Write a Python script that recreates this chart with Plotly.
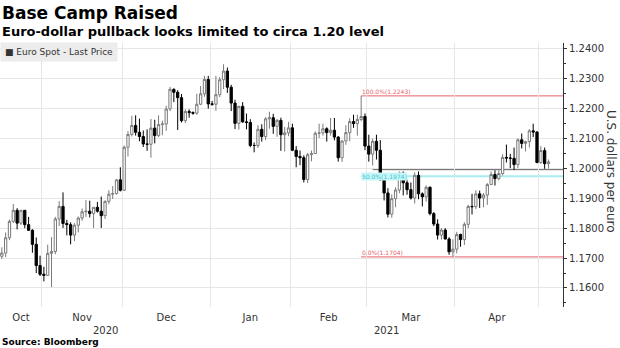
import pandas as pd
import plotly.graph_objects as go

# ---------------- data ----------------
dates = pd.bdate_range("2020-10-15", "2021-05-05")

opens = [
    1.1746, 1.1706, 1.1717, 1.1768, 1.1823, 1.1860, 1.1817, 1.1860, 1.1812, 1.1793, 1.1746, 1.1675,
    1.1646, 1.1642, 1.1716, 1.1722, 1.1831, 1.1873, 1.1816, 1.1812, 1.1777, 1.1810, 1.1834, 1.1855,
    1.1857, 1.1849, 1.1870, 1.1857, 1.1842, 1.1890, 1.1914, 1.1916, 1.1962,
    1.1927, 1.2071, 1.2114, 1.2144, 1.2121, 1.2107, 1.2082, 1.2081, 1.2135, 1.2110, 1.2147, 1.2149,
    1.2199, 1.2265, 1.2255, 1.2237, 1.2160, 1.2191, 1.2187, 1.2185, 1.2215, 1.2250, 1.2298,
    1.2216, 1.2215, 1.2247, 1.2297, 1.2326, 1.2272, 1.2219, 1.2151, 1.2208, 1.2156, 1.2154, 1.2077,
    1.2077, 1.2131, 1.2107, 1.2166, 1.2170, 1.2141, 1.2161, 1.2113, 1.2119,
    1.2136, 1.2061, 1.2040, 1.2036, 1.1963, 1.2046, 1.2050, 1.2118, 1.2119, 1.2133, 1.2120, 1.2128,
    1.2105, 1.2036, 1.2092, 1.2120, 1.2157, 1.2150, 1.2164, 1.2174,
    1.2075, 1.2048, 1.2091, 1.2061, 1.1966, 1.1918, 1.1847, 1.1899, 1.1928, 1.1985, 1.1952, 1.1929,
    1.1901, 1.1977, 1.1915, 1.1905, 1.1937, 1.1849, 1.1814, 1.1777, 1.1794, 1.1764, 1.1721,
    1.1730, 1.1779, 1.1762, 1.1813, 1.1873, 1.1872, 1.1915, 1.1901, 1.1911, 1.1946, 1.1980, 1.1966,
    1.1983, 1.2037, 1.2035, 1.2034, 1.2013, 1.2096, 1.2084, 1.2090, 1.2126, 1.2122,
    1.2020, 1.2060, 1.2016,
]
highs = [
    1.1750, 1.1736, 1.1786, 1.1829, 1.1881, 1.1867, 1.1861, 1.1860, 1.1838, 1.1797, 1.1769, 1.1708,
    1.1671, 1.1745, 1.1770, 1.1838, 1.1891, 1.1920, 1.1828, 1.1820, 1.1817, 1.1839, 1.1866, 1.1894,
    1.1892, 1.1870, 1.1888, 1.1906, 1.1893, 1.1927, 1.1941, 1.1964, 1.2004,
    1.2077, 1.2125, 1.2176, 1.2178, 1.2167, 1.2127, 1.2131, 1.2166, 1.2163, 1.2178, 1.2160, 1.2210,
    1.2273, 1.2268, 1.2262, 1.2249, 1.2198, 1.2198, 1.2191, 1.2250, 1.2276, 1.2310, 1.2310,
    1.2226, 1.2310, 1.2306, 1.2349, 1.2338, 1.2280, 1.2230, 1.2210, 1.2222, 1.2184, 1.2165, 1.2087,
    1.2145, 1.2148, 1.2172, 1.2190, 1.2183, 1.2166, 1.2170, 1.2139, 1.2156,
    1.2150, 1.2075, 1.2060, 1.2044, 1.2052, 1.2060, 1.2124, 1.2150, 1.2150, 1.2138, 1.2169, 1.2169,
    1.2108, 1.2094, 1.2145, 1.2168, 1.2180, 1.2180, 1.2243, 1.2184,
    1.2113, 1.2100, 1.2113, 1.2095, 1.1977, 1.1934, 1.1913, 1.1937, 1.1990, 1.1990, 1.1962, 1.1953,
    1.1987, 1.1990, 1.1920, 1.1943, 1.1940, 1.1854, 1.1830, 1.1800, 1.1800, 1.1770, 1.1763,
    1.1788, 1.1782, 1.1820, 1.1878, 1.1915, 1.1927, 1.1926, 1.1918, 1.1951, 1.1990, 1.1994, 1.1994,
    1.2048, 1.2080, 1.2049, 1.2070, 1.2100, 1.2117, 1.2093, 1.2132, 1.2150, 1.2125,
    1.2075, 1.2070, 1.2030,
]
lows = [
    1.1689, 1.1697, 1.1703, 1.1760, 1.1817, 1.1796, 1.1811, 1.1800, 1.1791, 1.1718, 1.1650, 1.1640,
    1.1622, 1.1640, 1.1603, 1.1713, 1.1807, 1.1801, 1.1776, 1.1746, 1.1757, 1.1786, 1.1825, 1.1838,
    1.1836, 1.1801, 1.1852, 1.1801, 1.1831, 1.1880, 1.1898, 1.1912, 1.1923,
    1.1925, 1.2040, 1.2107, 1.2110, 1.2091, 1.2072, 1.2059, 1.2036, 1.2084, 1.2105, 1.2111, 1.2126,
    1.2192, 1.2222, 1.2129, 1.2154, 1.2152, 1.2170, 1.2180, 1.2180, 1.2212, 1.2240, 1.2200,
    1.2210, 1.2193, 1.2239, 1.2266, 1.2253, 1.2192, 1.2132, 1.2130, 1.2153, 1.2131, 1.2071, 1.2054,
    1.2069, 1.2090, 1.2095, 1.2133, 1.2116, 1.2106, 1.2059, 1.2057, 1.2108,
    1.2058, 1.2004, 1.2011, 1.1953, 1.1951, 1.2024, 1.2049, 1.2102, 1.2110, 1.2090, 1.2110, 1.2094,
    1.2023, 1.2022, 1.2079, 1.2091, 1.2136, 1.2110, 1.2158, 1.2061,
    1.2023, 1.2010, 1.2030, 1.1958, 1.1893, 1.1836, 1.1835, 1.1870, 1.1917, 1.1910, 1.1912, 1.1896,
    1.1883, 1.1897, 1.1873, 1.1889, 1.1843, 1.1807, 1.1762, 1.1762, 1.1762, 1.1711, 1.1704,
    1.1716, 1.1738, 1.1744, 1.1800, 1.1846, 1.1864, 1.1868, 1.1870, 1.1878, 1.1947, 1.1943, 1.1960,
    1.1977, 1.2020, 1.2001, 1.1995, 1.2001, 1.2067, 1.2057, 1.2070, 1.2105, 1.2017,
    1.2016, 1.1999, 1.2000,
]
closes = [
    1.1706, 1.1717, 1.1768, 1.1823, 1.1860, 1.1817, 1.1860, 1.1812, 1.1793, 1.1746, 1.1675, 1.1646,
    1.1642, 1.1716, 1.1722, 1.1831, 1.1873, 1.1816, 1.1812, 1.1777, 1.1810, 1.1834, 1.1855, 1.1857,
    1.1849, 1.1870, 1.1857, 1.1842, 1.1890, 1.1914, 1.1916, 1.1962, 1.1927,
    1.2071, 1.2114, 1.2144, 1.2121, 1.2107, 1.2082, 1.2081, 1.2135, 1.2110, 1.2147, 1.2149, 1.2199,
    1.2265, 1.2255, 1.2237, 1.2160, 1.2191, 1.2187, 1.2185, 1.2215, 1.2250, 1.2298, 1.2216,
    1.2215, 1.2247, 1.2297, 1.2326, 1.2272, 1.2219, 1.2151, 1.2208, 1.2156, 1.2154, 1.2077, 1.2077,
    1.2131, 1.2107, 1.2166, 1.2170, 1.2141, 1.2161, 1.2113, 1.2119, 1.2136,
    1.2061, 1.2040, 1.2036, 1.1963, 1.2046, 1.2050, 1.2118, 1.2119, 1.2133, 1.2120, 1.2128, 1.2105,
    1.2036, 1.2092, 1.2120, 1.2157, 1.2150, 1.2164, 1.2174, 1.2075,
    1.2048, 1.2091, 1.2061, 1.1966, 1.1918, 1.1847, 1.1899, 1.1928, 1.1985, 1.1952, 1.1929, 1.1901,
    1.1977, 1.1915, 1.1905, 1.1937, 1.1849, 1.1814, 1.1777, 1.1794, 1.1764, 1.1721, 1.1730,
    1.1779, 1.1762, 1.1813, 1.1873, 1.1872, 1.1915, 1.1901, 1.1911, 1.1946, 1.1980, 1.1966, 1.1983,
    1.2037, 1.2035, 1.2034, 1.2013, 1.2096, 1.2084, 1.2090, 1.2126, 1.2122, 1.2020,
    1.2060, 1.2016, 1.2022,
]

fib_levels = [1.2243, 1.1974, 1.1704]
fib_texts = ["100.0%(1.2243)", "50.0%(1.1974)", "0.0%(1.1704)"]
fib_start = "2021-02-25"
support_level = 1.1996
support_start = "2021-03-02"

y_tickvals = [1.16, 1.17, 1.18, 1.19, 1.20, 1.21, 1.22, 1.23, 1.24]
y_ticktext = ["1.1600", "1.1700", "1.1800", "1.1900", "1.2000", "1.2100", "1.2200", "1.2300", "1.2400"]
y_minor = [1.155, 1.165, 1.175, 1.185, 1.195, 1.205, 1.215, 1.225, 1.235]

series_name = "Euro Spot - Last Price"
title = "Base Camp Raised"
subtitle = "Euro-dollar pullback looks limited to circa 1.20 level"
source = "Source: Bloomberg"
y_title = "U.S. dollars per euro"

# ---------------- positions ----------------
x = list(range(len(dates)))
x_range = [0.52, 147.8]
y_range = [1.15363, 1.2420]

# month boundaries / centers
boundaries = [i - 0.5 for i in range(1, len(dates)) if dates[i].month != dates[i - 1].month]
edges = [x_range[0]] + boundaries + [x_range[1]]
month_vals, month_text = [], []
for k in range(len(edges) - 1):
    a, b = edges[k], edges[k + 1]
    if b - a > 8:
        mid = (a + b) / 2
        month_vals.append(mid)
        month_text.append(dates[min(int(round(mid)), len(dates) - 1)].strftime("%b"))
year_edges = [x_range[0]] + [i - 0.5 for i in range(1, len(dates)) if dates[i].year != dates[i - 1].year] + [x_range[1]]
year_mids = [(year_edges[k] + year_edges[k + 1]) / 2 for k in range(len(year_edges) - 1)]
year_text = [str(dates[0].year + k) for k in range(len(year_mids))]

fib_i = list(dates).index(pd.Timestamp(fib_start))
sup_i = list(dates).index(pd.Timestamp(support_start))

fig = go.Figure()
fig.add_trace(go.Candlestick(
    x=x, open=opens, high=highs, low=lows, close=closes, name=series_name,
    increasing=dict(line=dict(color="#7a7a7a", width=1), fillcolor="#ffffff"),
    decreasing=dict(line=dict(color="#000000", width=1), fillcolor="#000000"),
    whiskerwidth=0, showlegend=False, hoverinfo="skip",
))

PLOT_TOP, PLOT_BOT = 43, 307
def py(pix):
    return (PLOT_BOT - pix) / (PLOT_BOT - PLOT_TOP)

shapes = []
fib_colors = ["#e8606a", "#a8ecf0", "#e8606a"]
fib_widths = [1, 2, 1]
for lv, c, w in zip(fib_levels, fib_colors, fib_widths):
    shapes.append(dict(type="line", xref="x", yref="y", x0=fib_i, x1=x_range[1], y0=lv, y1=lv,
                       line=dict(color=c, width=w), layer="below"))
shapes.append(dict(type="line", xref="x", yref="y", x0=sup_i, x1=x_range[1], y0=support_level, y1=support_level,
                   line=dict(color="#606060", width=1), layer="below"))

ann = []
ann.append(dict(text="<b>" + title + "</b>", xref="paper", yref="paper", x=0, y=py(13), xanchor="left",
                yanchor="middle", showarrow=False, font=dict(family="DejaVu Sans", size=17, color="#000")))
ann.append(dict(text="<b>" + subtitle + "</b>", xref="paper", yref="paper", x=0, y=py(31), xanchor="left",
                yanchor="middle", showarrow=False, font=dict(family="DejaVu Sans", size=13, color="#000")))
ann.append(dict(text="■ " + series_name, xref="paper", yref="paper", x=0, y=py(52), xanchor="left",
                yanchor="middle", showarrow=False, bgcolor="#ececec", borderpad=4,
                font=dict(family="DejaVu Sans", size=9, color="#333")))
ann.append(dict(text="<b>" + source + "</b>", xref="paper", yref="paper", x=0, y=py(342), xanchor="left",
                yanchor="middle", showarrow=False, font=dict(family="DejaVu Sans", size=9, color="#000")))
for xm, yt in zip(year_mids, year_text):
    ann.append(dict(text=yt, xref="x", yref="paper", x=xm, y=py(330), xanchor="center", yanchor="middle",
                    showarrow=False, font=dict(family="DejaVu Sans", size=10, color="#333")))
ann.append(dict(text=y_title, xref="paper", yref="paper", x=611 / 563, y=py(171), textangle=90,
                xanchor="center", yanchor="middle", showarrow=False,
                font=dict(family="DejaVu Sans", size=12, color="#333")))
for lv, t, c in zip(fib_levels, fib_texts, ["#e8606a", "#3cc6d4", "#e8606a"]):
    mid = (t.startswith("50"))
    ann.append(dict(text=t, xref="x", yref="y", x=fib_i, y=lv, xanchor="left",
                    yanchor="middle" if mid else "bottom", showarrow=False,
                    bgcolor="#c8f6f8" if mid else None, borderpad=0,
                    font=dict(family="DejaVu Sans", size=6, color=c)))

fig.update_layout(
    width=620, height=348, margin=dict(l=0, r=57, t=PLOT_TOP, b=348 - PLOT_BOT),
    paper_bgcolor="white", plot_bgcolor="white", showlegend=False,
    font=dict(family="DejaVu Sans", size=10, color="#333"),
    boxgap=0.15,
    shapes=shapes, annotations=ann,
    xaxis=dict(range=x_range, tickmode="array", tickvals=month_vals, ticktext=month_text,
               showgrid=False, ticks="", zeroline=False, showline=False, ticklabelstandoff=3,
               rangeslider=dict(visible=False), tickfont=dict(size=10, color="#333"),
               minor=dict(tickmode="array", tickvals=boundaries, showgrid=True,
                          gridcolor="#e6e6e6", gridwidth=1, ticks="")),
    yaxis=dict(range=y_range, side="right", tickmode="array", tickvals=y_tickvals, ticktext=y_ticktext,
               showgrid=True, gridcolor="#e6e6e6", gridwidth=1, zeroline=False,
               showline=True, linecolor="#333", linewidth=1, ticks="outside", ticklen=3,
               tickcolor="#333", tickfont=dict(size=10, color="#333"),
               minor=dict(tickmode="array", tickvals=y_minor, ticks="outside", ticklen=2,
                          tickcolor="#333", showgrid=False)),
)

fig.write_html("out.html")
